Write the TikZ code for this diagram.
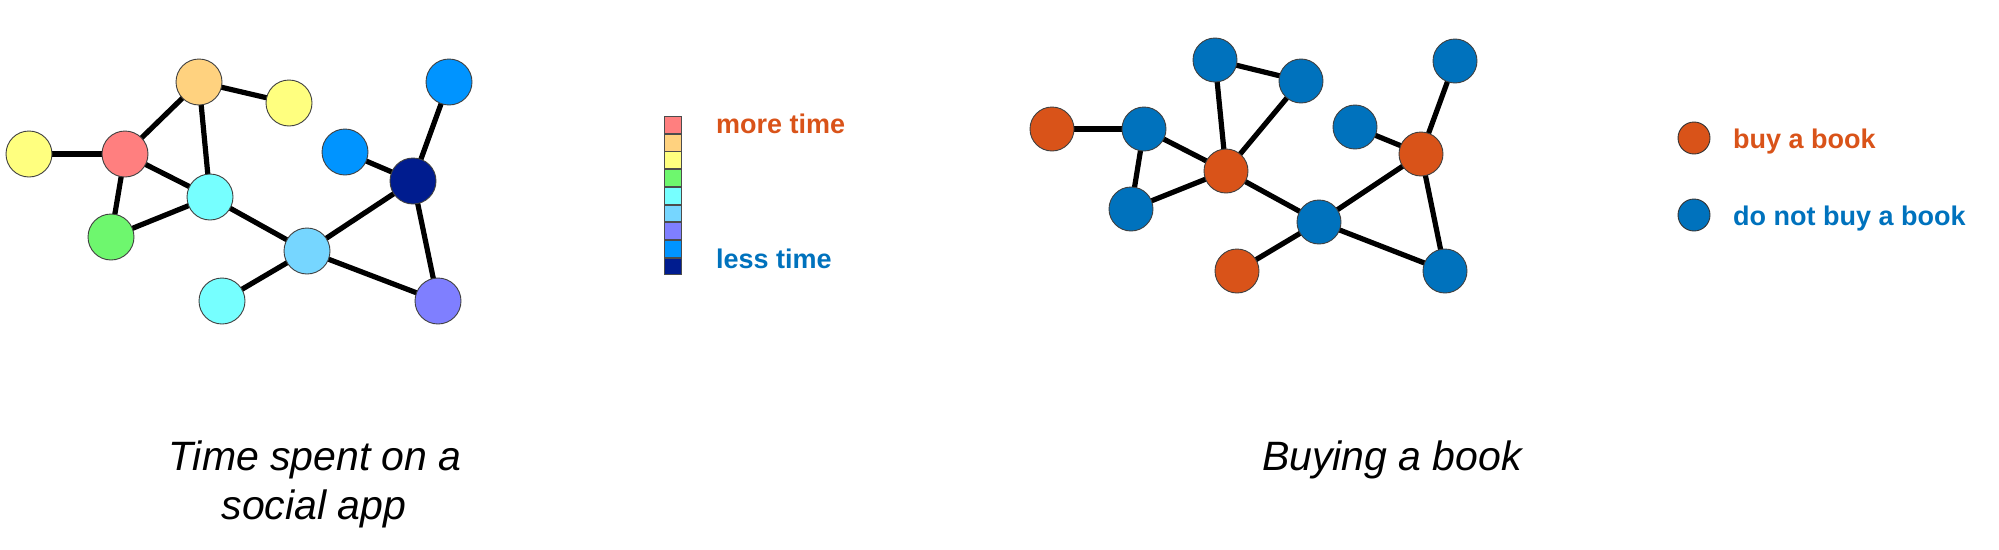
\documentclass[tikz,border=0pt]{standalone}
\usepackage{fontspec}
\setmainfont{Liberation Sans}
\usetikzlibrary{backgrounds}
\definecolor{cRed}{HTML}{FF7F7F}
\definecolor{cOrange}{HTML}{FFD27F}
\definecolor{cYellow}{HTML}{FFFF7F}
\definecolor{cGreen}{HTML}{6EF76E}
\definecolor{cCyan}{HTML}{76FFFF}
\definecolor{cLBlue}{HTML}{76D6FF}
\definecolor{cPurple}{HTML}{7F7FFF}
\definecolor{cBlue}{HTML}{0094FF}
\definecolor{cNavy}{HTML}{001C8F}
\definecolor{mOrange}{HTML}{D95319}
\definecolor{mBlue}{HTML}{0072BD}
\tikzset{
  vtx/.style={circle, draw=black!75, line width=0.9pt, minimum size=46pt, inner sep=0pt},
  rvtx/.style={vtx, minimum size=44pt},
  edge/.style={line width=5.2pt, black},
  cell/.style={draw=black!70, line width=0.9pt, minimum width=17pt, minimum height=16.8pt, inner sep=0pt, anchor=north west},
  lbl/.style={inner sep=0pt, anchor=base west, font=\fontsize{27}{30}\selectfont\bfseries},
  captxt/.style={inner sep=0pt, anchor=base, font=\fontsize{41}{49}\selectfont\itshape},
}
\begin{document}
\begin{tikzpicture}[x=1pt,y=-1pt]
\useasboundingbox (0,0) rectangle (1999,549);
% left graph
\node[vtx, fill=cYellow] (L1) at (29,154) {};
\node[vtx, fill=cRed] (L2) at (125,154) {};
\node[vtx, fill=cOrange] (L3) at (199,82) {};
\node[vtx, fill=cYellow] (L4) at (289,103) {};
\node[vtx, fill=cCyan] (L5) at (210,197) {};
\node[vtx, fill=cGreen] (L6) at (111,237) {};
\node[vtx, fill=cLBlue] (L7) at (307,251) {};
\node[vtx, fill=cCyan] (L8) at (222,301) {};
\node[vtx, fill=cBlue] (L9) at (345,152) {};
\node[vtx, fill=cBlue] (L10) at (449,82) {};
\node[vtx, fill=cNavy] (L11) at (413,181) {};
\node[vtx, fill=cPurple] (L12) at (438,301) {};
% right graph
\node[rvtx, fill=mOrange] (R1) at (1052,129) {};
\node[rvtx, fill=mBlue] (R2) at (1144,129) {};
\node[rvtx, fill=mBlue] (R3) at (1215,60) {};
\node[rvtx, fill=mBlue] (R4) at (1301,81) {};
\node[rvtx, fill=mOrange] (R5) at (1226,171) {};
\node[rvtx, fill=mBlue] (R6) at (1131,209) {};
\node[rvtx, fill=mBlue] (R7) at (1319,222) {};
\node[rvtx, fill=mOrange] (R8) at (1237,271) {};
\node[rvtx, fill=mBlue] (R9) at (1355,127) {};
\node[rvtx, fill=mOrange] (R10) at (1421,154) {};
\node[rvtx, fill=mBlue] (R11) at (1455,61) {};
\node[rvtx, fill=mBlue] (R12) at (1445,271) {};
\begin{scope}[on background layer]
\foreach \a/\b in {L1/L2,L2/L3,L3/L4,L3/L5,L2/L5,L2/L6,L6/L5,L5/L7,L7/L8,L7/L11,L7/L12,L11/L12,L11/L9,L11/L10,
  R1/R2,R2/R6,R2/R5,R6/R5,R3/R5,R3/R4,R4/R5,R5/R7,R7/R8,R7/R10,R7/R12,R10/R12,R10/R9,R10/R11}
  \draw[edge] (\a.center) -- (\b.center);
\end{scope}
% colour bar
\node[cell, fill=cRed] (C1) at (664,116) {};
\node[cell, fill=cOrange] (C2) at (C1.south west) {};
\node[cell, fill=cYellow] (C3) at (C2.south west) {};
\node[cell, fill=cGreen] (C4) at (C3.south west) {};
\node[cell, fill=cCyan] (C5) at (C4.south west) {};
\node[cell, fill=cLBlue] (C6) at (C5.south west) {};
\node[cell, fill=cPurple] (C7) at (C6.south west) {};
\node[cell, fill=cBlue] (C8) at (C7.south west) {};
\node[cell, fill=cNavy] (C9) at (C8.south west) {};
\node[lbl, text=mOrange] (more) at (716,133) {more time};
\node[lbl, text=mBlue] (less) at (716,268) {less time};
% legend
\node[circle, draw=black!80, line width=0.9pt, minimum size=32pt, inner sep=0pt, fill=mOrange] (K1) at (1694,138) {};
\node[circle, draw=black!80, line width=0.9pt, minimum size=32pt, inner sep=0pt, fill=mBlue] (K2) at (1694,215) {};
\node[lbl, text=mOrange] (buy) at (1733,148) {buy a book};
\node[lbl, text=mBlue] (notbuy) at (1733,225) {do not buy a book};
% captions
\node[captxt] (cap1a) at (315,470) {Time spent on a};
\node[captxt] (cap1b) at (314,519) {social app};
\node[captxt] (cap2) at (1392,470) {Buying a book};
\end{tikzpicture}
\end{document}
